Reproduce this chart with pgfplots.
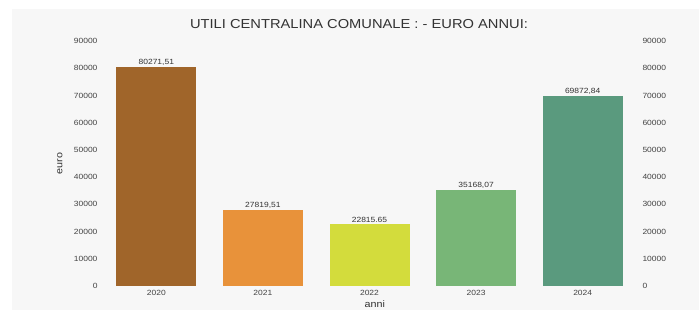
\documentclass[border=0pt]{standalone}
\usepackage{fontspec}
\setmainfont{Liberation Sans}[FakeStretch=1.13]
\usepackage{pgfplots}
\pgfplotsset{compat=1.18}
\definecolor{cA}{HTML}{A0652A}
\definecolor{cB}{HTML}{E8923A}
\definecolor{cC}{HTML}{D3DC3C}
\definecolor{cD}{HTML}{78B677}
\definecolor{cE}{HTML}{5A9A7E}
\definecolor{panel}{HTML}{F7F7F7}
\definecolor{txt}{HTML}{333333}
\definecolor{tick}{HTML}{444444}
\begin{document}
\begin{tikzpicture}[x=1pt,y=1pt]
\fill[white] (0,0) rectangle (699,310);
\fill[panel] (12,0) rectangle (699,301);
\node[font=\fontsize{13}{15}\selectfont, text=txt] at (359,286) {UTILI CENTRALINA COMUNALE : - EURO ANNUI:};
\begin{axis}[
  at={(103pt,24pt)}, anchor=south west,
  scale only axis, width=533pt, height=245pt,
  xmin=-0.5, xmax=4.5, ymin=0, ymax=90000,
  xtick={0,1,2,3,4}, xticklabels={2020,2021,2022,2023,2024},
  ytick={0,10000,...,90000},
  scaled y ticks=false,
  /pgf/number format/.cd, fixed, 1000 sep={}, assume math mode=true, /pgfplots/.cd,
  axis line style={draw=none}, major tick length=0pt,
  tick label style={font=\fontsize{7.5}{8}\selectfont, text=tick},
  yticklabel style={xshift=-2pt},
  xticklabel style={yshift=-1pt},
  xlabel={anni}, ylabel={euro},
  label style={font=\fontsize{9.5}{10}\selectfont, text=txt},
  xlabel style={at={(axis description cs:0.51,-0.073)}, anchor=center},
  ylabel style={at={(axis description cs:-0.081,0.5)}, anchor=center},
  nodes near coords, point meta=explicit symbolic,
  every node near coord/.style={font=\fontsize{7.5}{8}\selectfont, text=txt, anchor=south, inner sep=1.5pt},
  clip=false,
]
\addplot[ybar, bar width=80pt, fill=cA, draw=none] coordinates {(0,80271.51) [80271,51]};
\addplot[ybar, bar width=80pt, fill=cB, draw=none] coordinates {(1,27819.51) [27819,51]};
\addplot[ybar, bar width=80pt, fill=cC, draw=none] coordinates {(2,22815.65) [22815.65]};
\addplot[ybar, bar width=80pt, fill=cD, draw=none] coordinates {(3,35168.07) [35168,07]};
\addplot[ybar, bar width=80pt, fill=cE, draw=none] coordinates {(4,69872.84) [69872,84]};
\end{axis}
\begin{axis}[
  at={(103pt,24pt)}, anchor=south west,
  scale only axis, width=533pt, height=245pt,
  xmin=-0.5, xmax=4.5, ymin=0, ymax=90000,
  xtick=\empty, ytick={0,10000,...,90000},
  yticklabel pos=right,
  scaled y ticks=false,
  /pgf/number format/.cd, fixed, 1000 sep={}, assume math mode=true, /pgfplots/.cd,
  axis line style={draw=none}, major tick length=0pt,
  tick label style={font=\fontsize{7.5}{8}\selectfont, text=tick},
  yticklabel style={xshift=3pt},
]
\end{axis}
\end{tikzpicture}
\end{document}
